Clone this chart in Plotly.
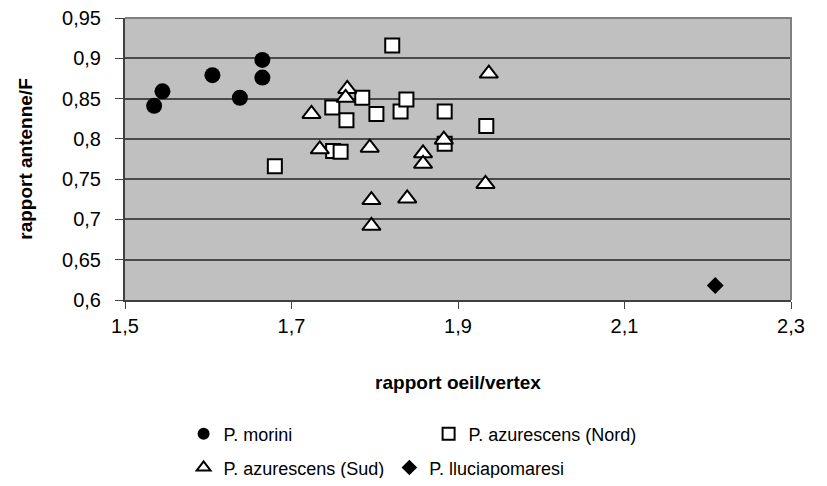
import plotly.graph_objects as go

# Data
morini_x = [1.535, 1.545, 1.605, 1.638, 1.665, 1.665]
morini_y = [0.841, 0.859, 0.879, 0.851, 0.898, 0.876]

nord_x = [1.821, 1.785, 1.749, 1.766, 1.802, 1.831, 1.838, 1.884, 1.934, 1.884, 1.750, 1.759, 1.680]
nord_y = [0.916, 0.851, 0.839, 0.823, 0.831, 0.834, 0.849, 0.834, 0.816, 0.794, 0.785, 0.784, 0.766]

sud_x = [1.767, 1.765, 1.724, 1.937, 1.734, 1.794, 1.883, 1.858, 1.858, 1.933, 1.796, 1.839, 1.796]
sud_y = [0.862, 0.851, 0.831, 0.881, 0.787, 0.789, 0.799, 0.782, 0.769, 0.744, 0.724, 0.726, 0.692]

llucia_x = [2.209]
llucia_y = [0.618]

x_ticks = [1.5, 1.7, 1.9, 2.1, 2.3]
y_ticks = [0.6, 0.65, 0.7, 0.75, 0.8, 0.85, 0.9, 0.95]

FONT = "Liberation Sans, Arial, sans-serif"

fig = go.Figure()
fig.add_trace(go.Scatter(x=morini_x, y=morini_y, mode="markers", name="P. morini",
                         marker=dict(symbol="circle", size=16, color="black",
                                     line=dict(color="black", width=0)),
                         legend="legend"))
fig.add_trace(go.Scatter(x=nord_x, y=nord_y, mode="markers", name="P. azurescens (Nord)",
                         marker=dict(symbol="square", size=14, color="white",
                                     line=dict(color="black", width=2)),
                         legend="legend"))
fig.add_trace(go.Scatter(x=sud_x, y=sud_y, mode="markers", name="P. azurescens (Sud)",
                         marker=dict(symbol="triangle-up", size=16, color="white",
                                     line=dict(color="black", width=2)),
                         legend="legend2"))
fig.add_trace(go.Scatter(x=llucia_x, y=llucia_y, mode="markers", name="P. lluciapomaresi",
                         marker=dict(symbol="diamond", size=13, color="black",
                                     line=dict(color="black", width=0)),
                         legend="legend2"))

# The page body has an 8px default margin, so the figure is sized to fit inside it.
fig.update_layout(
    width=811, height=470,
    margin=dict(l=117, r=28, t=10, b=178, autoexpand=False),
    paper_bgcolor="white",
    plot_bgcolor="#C0C0C0",
    separators=", ",
    font=dict(family=FONT, size=18, color="black"),
    showlegend=True,
    legend=dict(orientation="h", x=0.088, xanchor="left", y=-0.475, yanchor="middle",
                font=dict(family=FONT, size=18), entrywidth=200, entrywidthmode="pixels",
                itemsizing="constant",
                bgcolor="rgba(0,0,0,0)", itemclick=False),
    legend2=dict(orientation="h", x=0.088, xanchor="left", y=-0.595, yanchor="middle",
                 font=dict(family=FONT, size=18), itemsizing="constant",
                 bgcolor="rgba(0,0,0,0)", itemclick=False),
    shapes=[dict(type="path", xref="paper", yref="paper",
                 path="M 0,1 L 1,1 L 1,0", line=dict(color="#808080", width=2))],
)

fig.update_xaxes(
    range=[1.5, 2.3], tickvals=x_ticks, showgrid=False, zeroline=False, automargin=False,
    showline=True, linecolor="#404040", linewidth=2,
    ticks="outside", ticklen=7, tickcolor="#404040", tickwidth=1,
    tickfont=dict(family=FONT, size=20), ticklabeloverflow="allow",
    title=dict(text="rapport oeil/vertex", font=dict(family=FONT, size=19, weight="bold"),
               standoff=40),
)
fig.update_yaxes(
    range=[0.6, 0.95], tickvals=y_ticks, showgrid=True, gridcolor="#4a4a4a", gridwidth=1.5,
    zeroline=False, showline=True, linecolor="#404040", linewidth=2, automargin=False,
    ticks="outside", ticklen=8, tickcolor="#404040", tickwidth=1,
    tickfont=dict(family=FONT, size=20), ticklabelstandoff=10, ticklabeloverflow="allow",
    title=dict(text="rapport antenne/F", font=dict(family=FONT, size=19, weight="bold"),
               standoff=24),
)

fig.write_html("out.html")
